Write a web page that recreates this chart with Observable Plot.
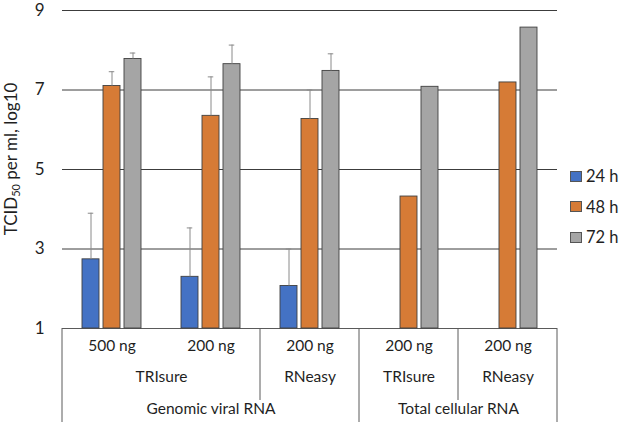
<!DOCTYPE html>
<html><head><meta charset="utf-8">
<script src="https://cdn.jsdelivr.net/npm/d3@7"></script>
<script src="https://cdn.jsdelivr.net/npm/@observablehq/plot@0.6"></script>
<style>
body{margin:0;background:#fff;}
#wrap{position:relative;width:620px;height:424px;font-family:Lato,sans-serif;}
.legend{position:absolute;left:570px;top:161px;font-size:16.5px;color:#1f1f1f;}
.item{display:flex;align-items:center;height:30.5px;}
.sw{width:10px;height:9px;border:1px solid #555;margin-right:4px;}
</style></head><body><div id="wrap"></div>
<script>
// ---- data ----
const amounts  = ["500 ng", "200 ng", "200 ng", "200 ng", "200 ng"];
const kits     = ["TRIsure", "TRIsure", "RNeasy", "TRIsure", "RNeasy"];
const rnaTypes = ["Genomic viral RNA", "Genomic viral RNA", "Genomic viral RNA", "Total cellular RNA", "Total cellular RNA"];
const series   = ["24 h", "48 h", "72 h"];
const values24 = [2.74, 2.30, 2.07, null, null];
const err24    = [1.16, 1.23, 0.93, null, null];
const values48 = [7.10, 6.35, 6.27, 4.32, 7.19];
const err48    = [0.36, 0.98, 0.73, null, null];
const values72 = [7.78, 7.65, 7.48, 7.08, 8.57];
const err72    = [0.15, 0.48, 0.43, null, null];
const yTicks   = [1, 3, 5, 7, 9];
const colors   = ["#4472C4", "#D67B36", "#A5A5A5"];

// ---- tables ----
const keys = amounts.map((a, i) => `${rnaTypes[i]}|${kits[i]}|${a}`);
const groupRows = keys.map((k, i) => ({key: k, amount: amounts[i], kit: kits[i], type: rnaTypes[i]}));
const valueSets = [values24, values48, values72];
const errSets = [err24, err48, err72];
const rows = [];
keys.forEach((k, i) => series.forEach((s, j) => {
  if (valueSets[j][i] != null) rows.push({key: k, series: s, value: valueSets[j][i], err: errSets[j][i]});
}));
const errRows = rows.filter(d => d.err != null);

function runs(fn) {
  const out = [];
  let start = 0;
  for (let i = 1; i <= keys.length; i++) {
    if (i === keys.length || fn(i) !== fn(start)) {
      const end = i - 1;
      const mid = Math.floor((start + end) / 2);
      out.push({key: keys[mid], label: fn(start).split("|").pop(), even: (end - start) % 2 === 1});
      start = i;
    }
  }
  return out;
}
const kitRuns = runs(i => rnaTypes[i] + "|" + kits[i]);
const typeRuns = runs(i => rnaTypes[i]);

const textColor = "#1f1f1f";
const lab = 15.5;
const labelMarks = [];
[[kitRuns, 53], [typeRuns, 85]].forEach(([r, dy]) => {
  labelMarks.push(Plot.text(r.filter(d => !d.even), {fx: "key", text: "label", frameAnchor: "bottom", dy, fontSize: lab, fill: textColor}));
  labelMarks.push(Plot.text(r.filter(d => d.even), {fx: "key", text: "label", frameAnchor: "bottom-right", textAnchor: "middle", dy, fontSize: lab, fill: textColor}));
});

const chart = Plot.plot({
  width: 620, height: 424,
  marginLeft: 61, marginRight: 63, marginTop: 10, marginBottom: 96,
  style: {fontFamily: "Lato, sans-serif", fontSize: "17px", color: textColor, overflow: "visible", background: "transparent"},
  fx: {domain: keys, padding: 0, axis: null},
  x: {domain: series, paddingInner: 0.205, paddingOuter: 0.857, axis: null},
  y: {domain: [yTicks[0], yTicks[yTicks.length - 1]], ticks: yTicks, tickSize: 0, tickPadding: 18, label: null},
  color: {domain: series, range: colors},
  marks: [
    Plot.ruleY(yTicks.slice(1), {stroke: "#3c3c3c", strokeWidth: 1}),
    Plot.ruleY([yTicks[0]], {stroke: "#5a5a5a", strokeWidth: 1}),
    Plot.barY(rows, {fx: "key", x: "series", y1: yTicks[0], y2: "value", fill: "series", stroke: "#404040", strokeWidth: 0.9}),
    Plot.ruleX(errRows, {fx: "key", x: "series", y1: "value", y2: d => d.value + d.err, stroke: "#8a8a8a", strokeWidth: 1}),
    Plot.tickY(errRows, {fx: "key", x: "series", y: d => d.value + d.err, stroke: "#8a8a8a", strokeWidth: 1, insetLeft: 5.75, insetRight: 5.75}),
    Plot.text(groupRows, {fx: "key", text: "amount", frameAnchor: "bottom", dy: 22, fontSize: lab, fill: textColor}),
    ...labelMarks
  ]
});
document.getElementById("wrap").appendChild(chart);

// hierarchical category dividers and axis title, positioned by Plot's scales
const fxs = chart.scale("fx"), ys = chart.scale("y");
const svg = d3.select(chart);
const base = ys.apply(yTicks[0]);
const bw = fxs.bandwidth;
const lines = [];
keys.forEach((k, i) => {
  const x = fxs.apply(k);
  if (i === 0 || rnaTypes[i] !== rnaTypes[i - 1]) lines.push([x, 94]);
  else if (kits[i] !== kits[i - 1]) lines.push([x, 72]);
});
lines.push([fxs.apply(keys[keys.length - 1]) + bw, 94]);
svg.append("g").selectAll("line").data(lines).join("line")
  .attr("x1", d => d[0]).attr("x2", d => d[0])
  .attr("y1", base).attr("y2", d => base + d[1])
  .attr("stroke", "#5a5a5a").attr("stroke-width", 1);

const t = svg.append("text")
  .attr("transform", `translate(12.5,${(ys.apply(yTicks[0]) + ys.apply(yTicks[yTicks.length-1])) / 2 - 10}) rotate(-90)`)
  .attr("text-anchor", "middle").attr("dominant-baseline", "middle")
  .attr("font-size", 17).attr("fill", textColor);
t.append("tspan").text("TCID");
t.append("tspan").attr("font-size", 11).attr("dy", 4).text("50");
t.append("tspan").attr("dy", -4).text(" per ml, log10");

// legend
const leg = d3.select("#wrap").append("div").attr("class", "legend");
series.forEach((s, i) => {
  const it = leg.append("div").attr("class", "item");
  it.append("div").attr("class", "sw").style("background", colors[i]);
  it.append("span").text(s);
});
</script></body></html>
